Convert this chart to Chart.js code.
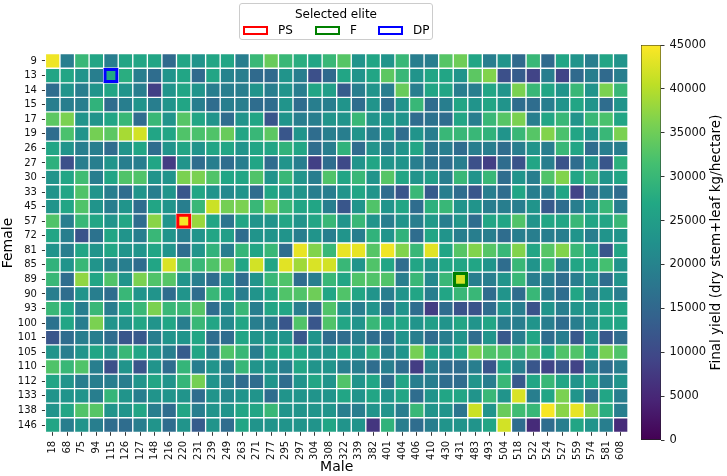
<!DOCTYPE html>
<html>
<head>
<meta charset="utf-8">
<script src="https://cdn.jsdelivr.net/npm/chart.js@4.4.1/dist/chart.umd.min.js"></script>
<style>
html,body{margin:0;padding:0;background:#fff;}
#wrap{position:relative;width:727px;height:476px;overflow:hidden;font-family:'DejaVu Sans',sans-serif;}
#heat{position:absolute;left:0;top:0;}
#cbar{position:absolute;left:600px;top:0;}
#legend{position:absolute;left:239px;top:3px;width:192px;height:35px;border:1px solid #cccccc;border-radius:3px;background:#fff;color:#000;}
#legend .title{position:absolute;left:0;right:0;top:3px;text-align:center;font-size:12px;line-height:14px;}
#legend .item{position:absolute;top:19px;height:14px;}
#legend .box{position:absolute;top:2.5px;left:0;width:21px;height:5px;border-width:2px;border-style:solid;background:#fff;}
#legend .lbl{position:absolute;top:0;left:35px;font-size:12px;line-height:14px;white-space:nowrap;}
</style>
</head>
<body>
<div id="wrap">
  <canvas id="heat" width="640" height="476"></canvas>
  <canvas id="cbar" width="127" height="476"></canvas>
  <div id="legend">
    <div class="title">Selected elite</div>
    <div class="item" style="left:3px"><span class="box" style="border-color:#ff0000"></span><span class="lbl">PS</span></div>
    <div class="item" style="left:75px"><span class="box" style="border-color:#008000"></span><span class="lbl">F</span></div>
    <div class="item" style="left:138px"><span class="box" style="border-color:#0000ff"></span><span class="lbl">DP</span></div>
  </div>
</div>
<script>
// ---------------- DATA ----------------
const males = ['18','68','75','94','115','126','127','148','216','220','231','239','249','263','271','277','295','297','304','308','322','339','382','401','404','406','410','430','431','483','493','504','518','522','524','527','559','574','581','608'];
const females = ['9','13','14','15','17','19','26','27','30','33','45','57','72','81','85','89','90','93','100','101','105','110','112','133','138','146'];

// Final yield (dry stem+leaf kg/hectare), one array per female, ordered as `males`
const f9   = [44000,19000,30000,26500,19000,26500,26500,26500,15500,26500,23000,26500,26500,19000,30000,34500,30000,28000,26500,30000,33000,23000,26500,23000,30000,19000,19000,33000,35000,26500,19000,23000,15500,30000,15500,26500,23000,19000,26500,23000];
const f13  = [26500,26500,23000,19000,27000,28000,19000,16000,23000,26500,15500,26500,20000,19000,15500,15500,23000,19000,11000,15500,26500,23000,26500,33500,30000,23000,26500,26500,23000,33500,36500,11000,13000,9000,19000,9000,15500,19000,15500,19000];
const f14  = [16000,23000,19000,23000,26500,23000,19000,8500,23000,26500,23000,19000,19000,19000,23000,19000,23000,19000,26500,25000,13000,19000,23000,19000,34500,19000,26500,26500,19000,19000,26500,23000,36000,30000,26500,23000,30000,23000,36000,30000];
const f15  = [19000,19000,19000,29000,16000,19000,23000,19000,23000,26500,19000,16000,19000,19000,16000,16000,23000,16000,19000,19000,23000,16000,23000,16000,23000,30000,16000,19000,26500,23000,26500,23000,16000,16000,19000,23000,26500,23000,16000,23000];
const f17  = [33500,36000,23000,23000,26500,30000,16000,30000,23000,33000,26500,23000,16000,23000,26500,12000,23000,19000,19000,23000,23000,30000,23000,23000,23000,16000,17000,16000,26500,19000,30000,33000,36000,19000,26500,30000,23000,30000,32000,26500];
const f19  = [16000,32000,23000,35500,33500,39000,42000,26500,26500,32500,32000,32500,34500,26500,30000,33500,12000,23000,16000,19000,19000,23000,19000,23000,16000,23000,19000,30000,30000,30000,29000,23000,30000,33000,36500,32000,26500,23000,30000,36000];
const f26  = [26500,23000,19000,19000,16000,23000,26500,16000,23000,26500,23000,26500,26500,23000,26500,26500,29000,26500,16000,19000,29000,16000,23000,19000,23000,26500,17500,19000,16000,19000,19000,16000,19000,23000,19000,30000,26500,16000,19000,19000];
const f27  = [28500,11000,19000,19000,23000,19000,19000,26500,8000,23000,16000,19000,16000,19000,26500,16000,23000,19000,8500,16000,10000,23000,26500,23000,23000,19000,17000,16000,19000,11000,8500,16000,11500,26500,19000,11500,16000,23000,12000,28500];
const f30  = [23000,26500,31000,19000,26500,32500,32500,23000,23000,36000,36000,32500,26500,26500,32500,23000,30000,23000,19000,32500,26500,30000,23000,33000,26500,23000,25000,19000,30000,23000,30000,16000,23000,19000,32500,36500,26500,30000,23000,26500];
const f33  = [23000,26500,32500,23000,19000,16000,23000,19000,23000,12000,26500,23000,21000,23000,16000,26500,23000,23000,19000,19000,23000,26500,23000,16000,12000,30000,13000,19000,16000,12000,19000,16000,26500,19000,19000,26500,9000,16000,19000,16000];
const f45  = [23000,26500,32500,23000,19000,23000,16000,26500,23000,19000,30000,41500,35500,36000,30000,36000,30000,26500,26500,19000,12000,23000,32500,23000,26500,16000,28500,30000,23000,23000,19000,19000,19000,23000,12500,16000,19000,23000,30000,19000];
const f57  = [32500,19000,30000,26500,23000,26500,16000,37000,23000,44500,38000,26500,17500,26500,23000,23000,26500,23000,26500,30000,23000,30000,23000,19000,23000,19000,24000,19000,23000,16000,26500,26500,32500,23000,26500,26500,30000,26500,26500,30000];
const f72  = [26500,19000,11500,17000,26500,23000,19000,30000,23000,19000,23000,26500,25000,16000,23000,23000,23000,19000,23000,19000,23000,19000,29000,23000,29000,16000,26500,23000,19000,19000,19000,16000,19000,19000,19000,19000,23000,19000,23000,23000];
const f81  = [23000,19000,26500,23000,26500,23000,23000,26500,23000,16000,23000,29000,19000,29500,26500,30000,16000,43500,36500,30000,43500,43500,33000,44000,36500,30000,43000,26500,33000,36500,33000,30000,36500,26500,33000,36500,30000,26500,12000,26500];
const f85  = [29000,23000,30000,23000,19000,19000,16000,26500,42500,32500,30000,32500,35500,26500,42000,26500,43000,38500,42500,42000,30000,23000,32500,26500,16000,26500,23000,26500,26500,26500,23000,16000,30000,23000,30000,19000,26500,26500,31500,23000];
const f89  = [30000,16000,37500,26500,32500,23000,36000,32500,33000,23000,19000,16000,23000,16000,23000,30000,32500,16000,19000,30000,26500,32500,32500,32500,19000,30000,21000,30000,42000,19000,19000,23000,30000,19000,19000,16000,19000,23000,16000,23000];
const f90  = [19000,16000,23000,19000,16000,30000,23000,23000,16000,23000,16000,30000,26500,19000,23000,26500,32500,32500,35000,26500,32500,26500,23000,19000,23000,26500,19000,26500,30000,30000,16000,23000,16000,30000,19000,16000,26500,19000,23000,19000];
const f93  = [30000,26500,19000,30000,19000,26500,30000,36000,30000,30000,33000,16000,21000,30000,19000,26500,26500,19000,16000,32500,23000,19000,23000,16000,23000,16000,8000,16000,11500,11500,16000,23000,19000,11500,23000,19000,23000,23000,26500,26500];
const f100 = [17000,26500,19000,36000,23000,23000,26500,23000,26500,19000,30000,26500,21000,26500,19000,19000,12000,32500,12000,32500,26500,23000,30000,26500,26500,23000,25000,23000,26500,23000,26500,19000,19000,23000,19000,16000,19000,23000,26500,26500];
const f101 = [12000,16000,19000,19000,16000,12000,12500,19000,23000,23000,26500,16000,16000,26500,23000,23000,23000,12500,23000,16000,16000,19000,16000,16000,23000,19000,16000,19000,23000,16000,23000,12500,19000,26500,16000,19000,12500,23000,12500,16000];
const f105 = [23000,19000,23000,26500,23000,30000,26500,23000,19000,13000,26500,19000,32500,30000,19000,26500,26500,26500,23000,23000,26500,23000,28500,19000,23000,35500,27000,23000,26500,36000,32500,32500,30000,32500,26500,32500,32500,26500,35500,32500];
const f110 = [32500,30000,32500,19000,11000,23000,12000,23000,16000,29500,19000,23000,19000,30000,23000,23000,19000,26500,23000,23000,19000,19000,16000,19000,16000,8000,19000,16000,16000,19000,12000,26500,19000,12000,9000,12000,9000,19000,16000,19000];
const f112 = [26500,23000,19000,19000,19000,19000,23000,26500,23000,29500,35500,23000,19000,16000,16000,23000,16000,23000,26500,23000,32500,23000,26500,16000,26500,19000,19000,16000,16000,23000,19000,30000,12500,26500,30000,26500,23000,26500,19000,23000];
const f133 = [23000,23000,23000,19000,29500,23000,19000,23000,23000,23000,16000,23000,21000,23000,23000,16000,23000,23000,23000,23000,26500,23000,26500,23000,26500,16000,23000,26500,26500,23000,30000,23000,42500,19000,26500,36000,23000,16000,26500,19000];
const f138 = [23000,26500,32500,33000,23000,23000,26500,19000,16000,26500,19000,23000,23000,26500,26500,30000,23000,23000,23000,23000,19000,19000,23000,23000,19000,30000,23000,23000,17500,41500,23000,34500,31000,30000,44500,37000,43500,36000,28000,19000];
const f146 = [26500,19000,23000,19000,16000,16000,19000,23000,16000,23000,13000,23000,16000,26500,23000,23000,23000,23000,23000,26500,23000,23000,7000,29000,19000,16000,19000,23000,23000,23000,26500,42000,16000,5500,16000,19000,26500,23000,19000,5500];

const yieldRows = [f9,f13,f14,f15,f17,f19,f26,f27,f30,f33,f45,f57,f72,f81,f85,f89,f90,f93,f100,f101,f105,f110,f112,f133,f138,f146];

const selLabels  = ['PS','F','DP'];
const selFemales = ['57','89','13'];
const selMales   = ['220','431','115'];
const selColors  = ['#ff0000','#008000','#0000ff'];

const cbarTicks = [0,5000,10000,15000,20000,25000,30000,35000,40000,45000];
const cbarMax = 45000;

// ---------------- colormap (viridis) ----------------
const VIRIDIS = ['#440154','#482475','#414487','#355f8d','#2a788e','#21918c','#22a884','#44bf70','#7ad151','#bddf26','#fde725'];
function hexToRgb(h){return [parseInt(h.slice(1,3),16),parseInt(h.slice(3,5),16),parseInt(h.slice(5,7),16)];}
const VR = VIRIDIS.map(hexToRgb);
function viridis(t){
  t = Math.max(0, Math.min(1, t));
  const p = t * (VR.length - 1);
  const i = Math.min(Math.floor(p), VR.length - 2);
  const f = p - i;
  const a = VR[i], b = VR[i+1];
  return 'rgb(' + [0,1,2].map(k => Math.round(a[k] + (b[k]-a[k]) * f)).join(',') + ')';
}

const FONT = "'DejaVu Sans', sans-serif";

// ---------------- heatmap ----------------
const cellSets = females.map((f, j) => ({
  label: 'Female ' + f,
  data: males.map(() => [j - 0.5, j + 0.5]),
  backgroundColor: yieldRows[j].map(v => viridis(v / cbarMax)),
  borderColor: '#ffffff',
  borderWidth: 1,
  borderSkipped: false,
  barPercentage: 1,
  categoryPercentage: 1
}));

const selSets = selLabels.map((lab, s) => {
  const j = females.indexOf(selFemales[s]);
  const i = males.indexOf(selMales[s]);
  return {
    label: lab,
    data: males.map((m, k) => k === i ? [j - 0.5, j + 0.5] : null),
    backgroundColor: 'rgba(0,0,0,0)',
    borderColor: selColors[s],
    borderWidth: 2.5,
    borderSkipped: false,
    barPercentage: 1,
    categoryPercentage: 1
  };
});

new Chart(document.getElementById('heat'), {
  type: 'bar',
  data: { labels: males, datasets: [...selSets, ...cellSets] },
  options: {
    responsive: false,
    animation: false,
    events: [],
    layout: { padding: { top: 53.7, bottom: 0, left: 0, right: 12 } },
    plugins: { legend: { display: false }, tooltip: { enabled: false } },
    scales: {
      x: {
        type: 'category',
        stacked: true,
        offset: true,
        border: { display: false },
        grid: { display: true, drawOnChartArea: false, drawTicks: true, tickLength: 3.5, color: '#000', lineWidth: 0.8, offset: false },
        ticks: { autoSkip: false, minRotation: 90, maxRotation: 90, padding: 5, color: '#111', font: { family: FONT, size: 10 } },
        title: { display: true, text: 'Male', color: '#000', font: { family: FONT, size: 14 }, padding: { top: 0, bottom: 0 } },
        afterFit: (s) => { s.height = 43.7; }
      },
      y: {
        type: 'linear',
        min: -0.5,
        max: females.length - 0.5,
        reverse: true,
        stacked: false,
        border: { display: false },
        grid: { display: true, drawOnChartArea: false, drawTicks: true, tickLength: 3.5, color: '#000', lineWidth: 0.8 },
        afterBuildTicks: (s) => { s.ticks = females.map((f, j) => ({ value: j })); },
        ticks: {
          autoSkip: false, padding: 5, color: '#111',
          font: { family: FONT, size: 10 },
          callback: (v) => females[Math.round(v)]
        },
        title: { display: true, text: 'Female', color: '#000', font: { family: FONT, size: 14 }, padding: { top: 0, bottom: 0 } },
        afterFit: (s) => { s.width = 45.4; }
      }
    }
  }
});

// ---------------- colorbar ----------------
const cbarLabelPlugin = {
  id: 'cbarLabel',
  afterDraw(chart) {
    const c = chart.ctx;
    const a = chart.chartArea;
    c.save();
    c.translate(116, (a.top + a.bottom) / 2);
    c.rotate(-Math.PI / 2);
    c.font = "13.5px " + FONT;
    c.fillStyle = '#000';
    c.textAlign = 'center';
    c.textBaseline = 'middle';
    c.fillText('Final yield (dry stem+leaf kg/hectare)', 0, 0);
    c.restore();
  }
};

new Chart(document.getElementById('cbar'), {
  type: 'bar',
  data: {
    labels: [''],
    datasets: [{
      data: [cbarMax],
      backgroundColor: (ctx) => {
        const ch = ctx.chart;
        if (!ch.chartArea) return '#21918c';
        const y = ch.scales.y;
        const g = ch.ctx.createLinearGradient(0, y.getPixelForValue(0), 0, y.getPixelForValue(cbarMax));
        VIRIDIS.forEach((col, k) => g.addColorStop(k / (VIRIDIS.length - 1), col));
        return g;
      },
      borderColor: '#222',
      borderWidth: 0.8,
      borderSkipped: false,
      barPercentage: 1,
      categoryPercentage: 1
    }]
  },
  options: {
    responsive: false,
    animation: false,
    events: [],
    layout: { padding: { top: 45, bottom: 36, left: 41, right: 0 } },
    plugins: { legend: { display: false }, tooltip: { enabled: false } },
    scales: {
      x: { display: false },
      y: {
        position: 'right',
        min: 0, max: cbarMax,
        border: { display: false },
        grid: { display: true, drawOnChartArea: false, drawTicks: true, tickLength: 3.5, color: '#000', lineWidth: 0.8 },
        afterBuildTicks: (s) => { s.ticks = cbarTicks.map(v => ({ value: v })); },
        ticks: { padding: 5, color: '#111', font: { family: FONT, size: 11.5 }, callback: (v) => String(v) },
        afterFit: (s) => { s.width = 66; }
      }
    }
  },
  plugins: [cbarLabelPlugin]
});
</script>
</body>
</html>
